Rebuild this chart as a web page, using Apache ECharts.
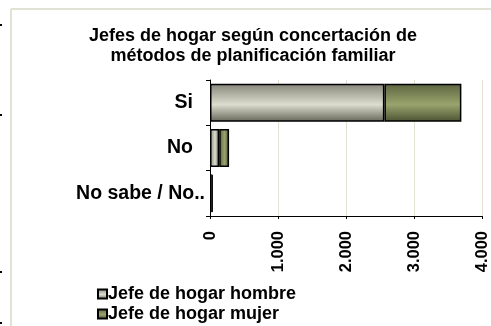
<!DOCTYPE html>
<html>
<head>
<meta charset="utf-8">
<script src="https://cdn.jsdelivr.net/npm/echarts@6/dist/echarts.min.js"></script>
<style>
  html, body { margin: 0; padding: 0; background: #ffffff; }
  #chart { width: 491px; height: 326px; }
</style>
</head>
<body>
<div id="chart"></div>
<script>
// Categories (top to bottom) and stacked values per household head
const categories = ['Si', 'No', 'No sabe / No..'];
const seriesNames = ['Jefe de hogar hombre', 'Jefe de hogar mujer'];
const hombre = [2560, 135, 25];
const mujer = [1130, 145, 14];
const xTicks = [0, 1000, 2000, 3000, 4000];

const FONT = 'Liberation Sans, Arial, Helvetica, sans-serif';

// Shaded "cylinder" fills: across the height for wide bars, across the width for narrow ones
function shade(stops, horizontal) {
  return new echarts.graphic.LinearGradient(0, 0, horizontal ? 1 : 0, horizontal ? 0 : 1,
    stops.map((c, i) => ({ offset: [0, 0.55, 1][i], color: c })));
}
const greyStops = ['#85857a', '#dcddcd', '#66665a'];
const oliveStops = ['#5c6440', '#99a46d', '#4b5232'];

function items(values, stops) {
  return values.map((v, i) => ({
    value: v,
    itemStyle: { color: shade(stops, i > 0) }
  }));
}

function fmt(v) {
  return String(v).replace(/\B(?=(\d{3})+(?!\d))/g, '.');
}

const labelFont = { fontFamily: FONT, fontWeight: 'bold', fontSize: 19.5, color: '#000' };

const chart = echarts.init(document.getElementById('chart'), null, { renderer: 'canvas' });

chart.setOption({
  animation: false,
  backgroundColor: '#ffffff',
  title: {
    text: 'Jefes de hogar según concertación de\nmétodos de planificación familiar',
    left: 253,
    top: 26,
    textAlign: 'center',
    padding: 0,
    textStyle: {
      fontFamily: FONT, fontWeight: 'bold', fontSize: 18, lineHeight: 20, color: '#000'
    }
  },
  legend: {
    orient: 'vertical',
    left: 97,
    top: 285,
    padding: 0,
    height: 60,
    itemWidth: 9,
    itemHeight: 9,
    itemGap: 2,
    icon: 'rect',
    textStyle: { fontFamily: FONT, fontWeight: 'bold', fontSize: 18, lineHeight: 18, color: '#000', padding: [0, 0, 0, -4] },
    data: seriesNames
  },
  grid: { left: 210, right: 4, top: 80, height: 136, containLabel: false },
  xAxis: {
    type: 'value',
    min: xTicks[0],
    max: xTicks[xTicks.length - 1],
    interval: xTicks[1] - xTicks[0],
    axisLine: { show: true, lineStyle: { color: '#000', width: 1 } },
    axisTick: { show: true, length: 3, lineStyle: { color: '#000' } },
    splitLine: { show: true, lineStyle: { color: '#e2e2d2', width: 1 } },
    axisLabel: {
      rotate: 90, margin: 15,
      fontFamily: FONT, fontWeight: 'bold', fontSize: 16.5, color: '#000',
      formatter: fmt
    }
  },
  yAxis: {
    type: 'category',
    inverse: true,
    data: categories,
    axisLine: { show: true, lineStyle: { color: '#000', width: 1 } },
    axisTick: { show: true, length: 4, lineStyle: { color: '#000' } },
    axisLabel: Object.assign({
      margin: 5,
      // short labels keep a wider gap from the axis than the long one
      formatter: (v) => v.length > 4 ? '{l|' + v + '}' : '{s|' + v + '}',
      rich: {
        s: Object.assign({ padding: [0, 12, 0, 0] }, labelFont),
        l: Object.assign({ padding: [0, 0, 0, 0] }, labelFont)
      }
    }, labelFont)
  },
  series: [
    {
      name: seriesNames[0], type: 'bar', stack: 'total', barCategoryGap: '16%',
      itemStyle: { color: shade(greyStops, false), borderColor: '#000', borderWidth: 1.5 },
      data: items(hombre, greyStops)
    },
    {
      name: seriesNames[1], type: 'bar', stack: 'total', barCategoryGap: '16%',
      itemStyle: { color: shade(oliveStops, false), borderColor: '#000', borderWidth: 1.5 },
      data: items(mujer, oliveStops)
    }
  ],
  graphic: [
    // chart-area frame edges
    { type: 'line', shape: { x1: 11, y1: 9, x2: 491, y2: 9 }, style: { stroke: '#e2e2d4', lineWidth: 2 } },
    { type: 'line', shape: { x1: 11, y1: 9, x2: 11, y2: 326 }, style: { stroke: '#e2e2d4', lineWidth: 2 } },
    // small marks on the far left margin
    { type: 'rect', shape: { x: 0, y: 24, width: 2, height: 2 }, style: { fill: '#000' } },
    { type: 'rect', shape: { x: 0, y: 114, width: 2, height: 2 }, style: { fill: '#000' } },
    { type: 'rect', shape: { x: 0, y: 271, width: 2, height: 2 }, style: { fill: '#000' } },
    { type: 'rect', shape: { x: 0, y: 322, width: 2, height: 2 }, style: { fill: '#000' } }
  ]
});
</script>
</body>
</html>
